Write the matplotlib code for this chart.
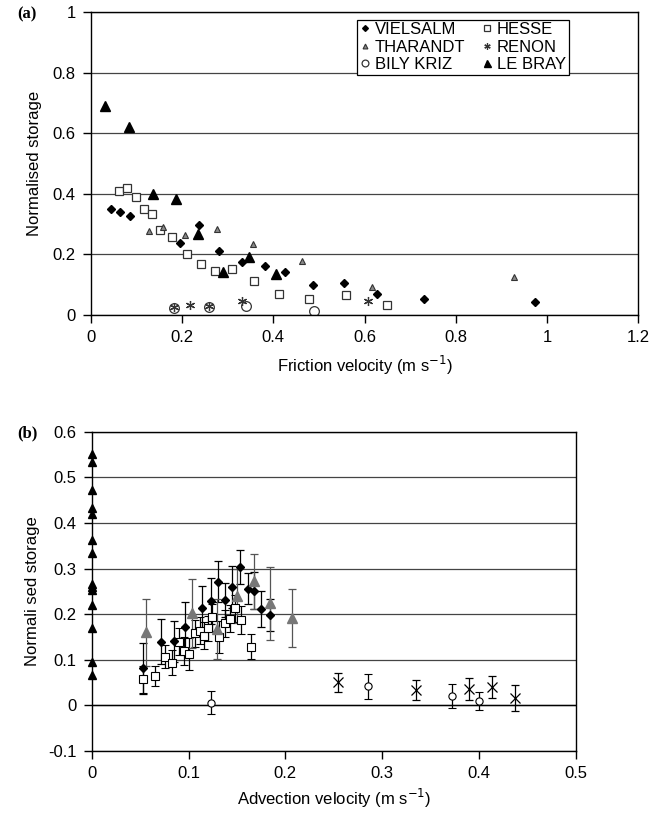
import matplotlib
matplotlib.use("Agg")
import matplotlib.pyplot as plt
import numpy as np

plt.rcParams['font.family'] = ['Liberation Sans', 'DejaVu Sans']

# ---------------- Panel (a) data: friction velocity vs normalised storage
vielsalm_a_x = [0.044, 0.063, 0.086, 0.196, 0.237, 0.281, 0.331, 0.382, 0.426, 0.488, 0.554, 0.628, 0.731, 0.974]
vielsalm_a_y = [0.349, 0.341, 0.327, 0.238, 0.296, 0.211, 0.176, 0.162, 0.142, 0.098, 0.107, 0.069, 0.053, 0.042]
hesse_a_x = [0.061, 0.080, 0.098, 0.116, 0.134, 0.151, 0.178, 0.210, 0.241, 0.271, 0.310, 0.358, 0.412, 0.478, 0.559, 0.649]
hesse_a_y = [0.408, 0.421, 0.390, 0.349, 0.332, 0.280, 0.258, 0.202, 0.170, 0.145, 0.151, 0.112, 0.069, 0.053, 0.067, 0.033]
tharandt_a_x = [0.128, 0.157, 0.207, 0.276, 0.355, 0.463, 0.617, 0.927]
tharandt_a_y = [0.277, 0.290, 0.263, 0.283, 0.234, 0.178, 0.093, 0.125]
renon_a_x = [0.181, 0.217, 0.259, 0.332, 0.607]
renon_a_y = [0.027, 0.033, 0.030, 0.046, 0.047]
bily_a_x = [0.181, 0.259, 0.339, 0.489]
bily_a_y = [0.024, 0.026, 0.031, 0.014]
lebray_a_x = [0.031, 0.084, 0.137, 0.186, 0.235, 0.290, 0.346, 0.406]
lebray_a_y = [0.689, 0.621, 0.399, 0.382, 0.266, 0.143, 0.191, 0.135]

# ---------------- Panel (b) data: advection velocity vs normalised storage (with error bars)
vielsalm_b_x = [0.0525, 0.0715, 0.0852, 0.0962, 0.114, 0.1227, 0.1305, 0.138, 0.145, 0.153, 0.161, 0.168, 0.1745, 0.1845]
vielsalm_b_y = [0.081, 0.140, 0.141, 0.171, 0.213, 0.229, 0.271, 0.231, 0.260, 0.303, 0.256, 0.252, 0.212, 0.198]
vielsalm_b_e = [0.055, 0.050, 0.045, 0.055, 0.048, 0.050, 0.045, 0.037, 0.046, 0.037, 0.034, 0.040, 0.040, 0.035]
hesse_b_x = [0.0525, 0.0656, 0.0756, 0.0831, 0.0903, 0.0955, 0.1006, 0.1065, 0.1117, 0.116, 0.120, 0.1244, 0.1316, 0.1374, 0.1426, 0.1477, 0.154, 0.164]
hesse_b_y = [0.057, 0.064, 0.107, 0.094, 0.140, 0.119, 0.113, 0.158, 0.164, 0.153, 0.169, 0.193, 0.150, 0.180, 0.190, 0.213, 0.187, 0.129]
hesse_b_e = [0.030, 0.022, 0.025, 0.028, 0.030, 0.030, 0.035, 0.030, 0.030, 0.030, 0.028, 0.030, 0.035, 0.030, 0.030, 0.030, 0.030, 0.027]
tharandt_b_x = [0.056, 0.104, 0.1295, 0.150, 0.1677, 0.184, 0.207]
tharandt_b_y = [0.160, 0.202, 0.167, 0.240, 0.272, 0.224, 0.191]
tharandt_b_e = [0.074, 0.076, 0.066, 0.060, 0.060, 0.080, 0.064]
renon_b_x = [0.254, 0.335, 0.390, 0.413, 0.437]
renon_b_y = [0.0506, 0.0336, 0.035, 0.0396, 0.0167]
renon_b_e = [0.021, 0.021, 0.024, 0.024, 0.028]
bily_b_x = [0.1227, 0.285, 0.372, 0.3996]
bily_b_y = [0.006, 0.042, 0.021, 0.0095]
bily_b_e = [0.025, 0.027, 0.026, 0.020]
lebray_b_x = [0, 0, 0, 0, 0, 0, 0, 0, 0, 0, 0, 0, 0, 0]
lebray_b_y = [0.552, 0.535, 0.473, 0.433, 0.420, 0.363, 0.334, 0.266, 0.259, 0.253, 0.220, 0.169, 0.096, 0.067]

legend_labels = ["VIELSALM", "HESSE", "THARANDT", "RENON", "BILY KRIZ", "LE BRAY"]

FS = 12
fig = plt.figure(figsize=(6.53, 8.16), dpi=100)
ax1 = fig.add_axes([0.1394, 0.614, 0.8377, 0.371])
ax2 = fig.add_axes([0.1404, 0.0797, 0.7417, 0.391])

grid_col = '#444444'

def style(ax):
    for s in ax.spines.values():
        s.set_linewidth(1.0)
        s.set_color('black')
    ax.tick_params(axis='both', direction='out', length=6, width=1, labelsize=FS,
                   top=False, right=False, pad=5)
    ax.yaxis.grid(True, color=grid_col, linewidth=0.9)
    ax.set_axisbelow(True)

# ---- panel (a)
style(ax1)
h1, = ax1.plot(vielsalm_a_x, vielsalm_a_y, 'D', ms=4.2, color='black', mec='black', ls='none')
h2, = ax1.plot(hesse_a_x, hesse_a_y, 's', ms=5.2, mfc='white', mec='#333333', mew=0.9, ls='none')
h3, = ax1.plot(tharandt_a_x, tharandt_a_y, '^', ms=5, mfc='#888888', mec='#333333', mew=0.8, ls='none')
h4, = ax1.plot(renon_a_x, renon_a_y, marker=(6, 2, 0), ms=6.5, color='#333333', mew=0.9, ls='none')
h5, = ax1.plot(bily_a_x, bily_a_y, 'o', ms=7, mfc='none', mec='#333333', mew=0.9, ls='none')
h6, = ax1.plot(lebray_a_x, lebray_a_y, '^', ms=7.2, color='black', ls='none')
ax1.set_xlim(0, 1.2)
ax1.set_ylim(0, 1)
ax1.set_xticks(np.arange(0, 1.21, 0.2))
ax1.set_xticklabels(['0', '0.2', '0.4', '0.6', '0.8', '1', '1.2'])
ax1.set_yticks(np.arange(0, 1.01, 0.2))
ax1.set_yticklabels(['0', '0.2', '0.4', '0.6', '0.8', '1'])
ax1.set_xlabel('Friction velocity (m s$^{-1}$)', fontsize=FS, labelpad=6)
ax1.set_ylabel('Normalised storage', fontsize=FS, labelpad=8)
leg = ax1.legend([h1, h3, h5, h2, h4, h6],
                 [legend_labels[0], legend_labels[2], legend_labels[4],
                  legend_labels[1], legend_labels[3], legend_labels[5]],
                 ncol=2, loc='upper left', bbox_to_anchor=(0.487, 0.975),
                 fontsize=FS, frameon=True, fancybox=False, framealpha=1,
                 edgecolor='black', handlelength=0.6, handletextpad=0.3,
                 columnspacing=1.0, labelspacing=0.15, borderpad=0.15,
                 markerscale=0.7, borderaxespad=0)
leg.get_frame().set_linewidth(0.9)
fig.text(0.027, 0.982, '(a)', fontsize=12, fontweight='bold',
         family=['Liberation Serif', 'DejaVu Serif'], va='center', ha='left')

# ---- panel (b)
style(ax2)
ax2.axhline(0, color='black', lw=1.0, zorder=1)
ekw = dict(elinewidth=0.9, capsize=3, capthick=0.9, ls='none')
ax2.errorbar(hesse_b_x, hesse_b_y, yerr=hesse_b_e, fmt='s', ms=5.2, mfc='white', mec='black',
             mew=0.8, ecolor='black', **ekw)
ax2.errorbar(vielsalm_b_x, vielsalm_b_y, yerr=vielsalm_b_e, fmt='D', ms=3.6, color='black',
             ecolor='black', **ekw)
ax2.errorbar(tharandt_b_x, tharandt_b_y, yerr=tharandt_b_e, fmt='^', ms=6.5, mfc='#777777',
             mec='#777777', ecolor='#555555', **ekw)
ax2.errorbar(renon_b_x, renon_b_y, yerr=renon_b_e, fmt='x', ms=7, mec='black', mew=0.9,
             ecolor='black', **ekw)
ax2.errorbar(bily_b_x, bily_b_y, yerr=bily_b_e, fmt='o', ms=5.2, mfc='white', mec='black',
             mew=0.8, ecolor='black', **ekw)
ax2.plot(lebray_b_x, lebray_b_y, '^', ms=6, color='black', ls='none', clip_on=False, zorder=5)
ax2.set_xlim(0, 0.5)
ax2.set_ylim(-0.1, 0.6)
ax2.set_xticks(np.arange(0, 0.51, 0.1))
ax2.set_xticklabels(['0', '0.1', '0.2', '0.3', '0.4', '0.5'])
ax2.set_yticks(np.arange(-0.1, 0.61, 0.1))
ax2.set_yticklabels(['-0.1', '0', '0.1', '0.2', '0.3', '0.4', '0.5', '0.6'])
ax2.set_xlabel('Advection velocity (m s$^{-1}$)', fontsize=FS, labelpad=4)
ax2.set_ylabel('Normali sed storage', fontsize=FS, labelpad=6)
fig.text(0.026, 0.469, '(b)', fontsize=12, fontweight='bold',
         family=['Liberation Serif', 'DejaVu Serif'], va='center', ha='left')

fig.savefig('out.png', dpi=100)
